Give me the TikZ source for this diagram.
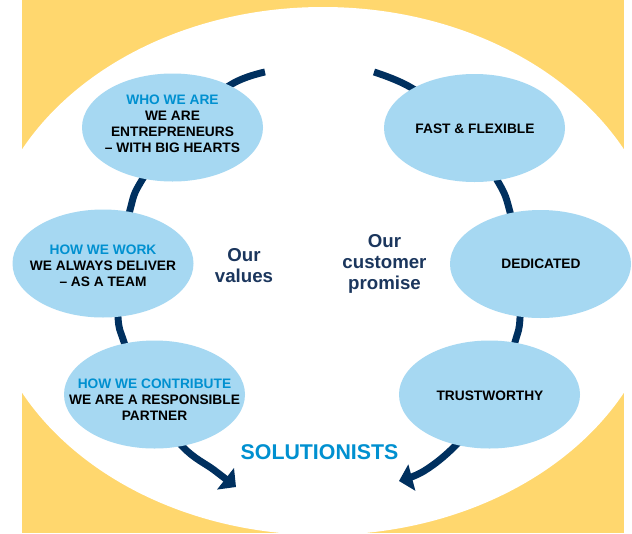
\documentclass[tikz,border=0pt]{standalone}
\usepackage{fontspec}
\setmainfont{Liberation Sans}
\usetikzlibrary{shapes.geometric,arrows.meta}
\definecolor{bgyellow}{HTML}{FFD76E}
\definecolor{bubblefill}{HTML}{A6D8F2}
\definecolor{arcnavy}{HTML}{00305F}
\definecolor{headcyan}{HTML}{0090D0}
\definecolor{navytext}{HTML}{1B365D}
\begin{document}
\begin{tikzpicture}[x=0.75pt,y=-0.75pt,
  bubble/.style={ellipse,fill=bubblefill,minimum width=135.75pt,minimum height=81pt,inner sep=0pt},
  bubtext/.style={align=center,font=\fontsize{10.3}{12}\selectfont\bfseries,text=black,inner sep=0pt},
  side/.style={align=center,font=\fontsize{14}{15.75}\selectfont\bfseries,text=navytext,inner sep=0pt},
  flow/.style={draw=arcnavy,line width=5.2pt,-{Triangle[width=20pt,length=10pt]}}]
\useasboundingbox (0,0) rectangle (632,533);
\clip (0,0) rectangle (632,533);
% background
\fill[bgyellow] (22,0) rectangle (624,533);
\fill[white] (323,271) ellipse [x radius=254.25pt, y radius=198pt];
% flow arcs
\coordinate (ls) at (265,72);
\coordinate (le) at (236,487);
\coordinate (rs) at (374,72);
\coordinate (re) at (399,481);
\draw[flow] plot[smooth,tension=0.6] coordinates {(ls) (232,84) (185,120) (142,180) (130,210) (119,265) (118,317) (124,342) (145,398) (183,447) (214,470) (le)};
\draw[flow] plot[smooth,tension=0.6] coordinates {(rs) (410,87) (455,120) (497,180) (510,212) (520,265) (520,318) (515,342) (497,398) (455,446) (424,471) (re)};
% bubbles
\node[bubble] (who) at (172.5,127.5) {};
\node[bubble] (fast) at (474.5,128) {};
\node[bubble] (work) at (103,263.5) {};
\node[bubble] (ded) at (540.5,264) {};
\node[bubble] (contrib) at (154.5,394.5) {};
\node[bubble] (trust) at (489.5,394.5) {};
% bubble texts
\node[bubtext] (whot) at (172.5,123.5) {\textcolor{headcyan}{WHO WE ARE}\\WE ARE\\ENTREPRENEURS\\– WITH BIG HEARTS};
\node[bubtext] (fastt) at (475,129) {FAST \& FLEXIBLE};
\node[bubtext] (workt) at (103,265.5) {\textcolor{headcyan}{HOW WE WORK}\\WE ALWAYS DELIVER\\– AS A TEAM};
\node[bubtext] (dedt) at (541,264) {DEDICATED};
\node[bubtext] (contribt) at (154.5,399.5) {\textcolor{headcyan}{HOW WE CONTRIBUTE}\\WE ARE A RESPONSIBLE\\PARTNER};
\node[bubtext] (trustt) at (490,396) {TRUSTWORTHY};
% centre texts
\node[side] (values) at (244,266) {Our\\values};
\node[side] (promise) at (384.5,264) {Our\\customer\\promise};
\node[font=\fontsize{16}{19}\selectfont\bfseries,text=headcyan,inner sep=0pt] (sol) at (319.5,452) {SOLUTIONISTS};
\end{tikzpicture}
\end{document}
